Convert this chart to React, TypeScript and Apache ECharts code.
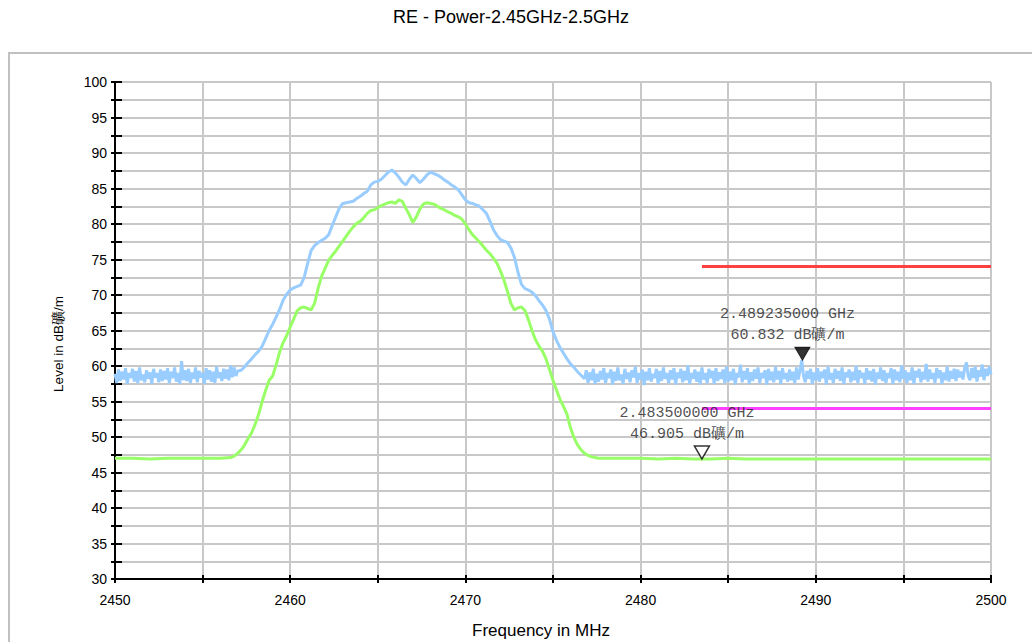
import React, { useEffect, useRef } from "react";
import * as echarts from "echarts";

const titleText = "RE - Power-2.45GHz-2.5GHz";
const xAxisName = "Frequency in MHz";
const yAxisName = "Level in dB礦/m";

const xMin = 2450;
const xMax = 2500;
const yMin = 30;
const yMax = 100;

// Blue (peak) trace: noise floor at 0.1 MHz steps, emission band at 0.2 MHz steps
const noiseStep = 0.1;
const bandStep = 0.2;
const blueLeftStart = 2450;
const blueLeft = [
  58.9, 57.6, 59.5, 57.9, 59.2, 58.1, 59.7, 57.5, 59.0, 58.3,
  59.6, 57.8, 59.3, 57.6, 59.8, 58.0, 58.8, 57.7, 59.4, 58.2,
  59.1, 57.5, 59.6, 58.4, 59.0, 57.7, 59.5, 57.9, 59.3, 58.1,
  59.7, 57.6, 59.2, 58.3, 59.8, 57.8, 59.0, 57.5, 60.7, 58.0,
  59.4, 57.9, 59.6, 57.6, 59.1, 58.2, 59.8, 57.7, 59.3, 58.4,
  59.0, 57.5, 59.7, 58.1, 59.4, 57.8, 59.2, 57.6, 59.9, 58.3,
  59.1, 57.9, 59.6, 58.2, 59.5, 58.0, 60.1, 58.4, 59.8, 58.6,
  59.3,
];
const blueBandStart = 2457.2;
const blueBand = [
  59.4, 59.9, 60.5, 61.0, 61.6,
  62.1, 62.8, 63.9, 65.0, 65.9,
  66.9, 68.0, 69.3, 70.1, 70.7,
  71.0, 71.2, 71.4, 72.5, 74.5,
  76.3, 77.0, 77.4, 77.7, 78.0,
  78.5, 79.8, 81.0, 82.2, 82.9,
  83.0, 83.1, 83.2, 83.6, 83.9,
  84.3, 84.6, 85.5, 85.9, 86.0,
  86.3, 86.8, 87.3, 87.6, 87.2,
  86.6, 85.9, 85.5, 86.3, 86.9,
  86.4, 85.8, 86.3, 86.9, 87.3,
  87.1, 86.9, 86.6, 86.2, 85.9,
  85.5, 85.2, 84.8, 84.1, 83.4,
  83.0, 82.9, 82.7, 82.5, 82.0,
  81.5, 80.4, 79.2, 78.4, 77.8,
  77.6, 77.4, 76.6, 75.3, 73.2,
  71.5, 70.9, 70.7, 70.4, 69.9,
  69.2, 68.6, 67.8, 66.6, 64.8,
  63.6, 62.6, 61.8, 61.0, 60.3,
  59.8, 59.2, 58.7,
];
const blueRightStart = 2476.8;
const blueRight = [
  58.2, 59.4,
  57.6, 59.1, 58.0, 59.6, 57.5, 58.9, 57.8, 59.3, 58.1, 59.7,
  57.6, 59.0, 58.3, 59.5, 57.4, 59.2, 57.9, 59.8, 58.0, 58.8,
  57.5, 59.6, 58.2, 59.1, 57.7, 59.4, 58.4, 59.9, 57.6, 59.0,
  58.1, 59.5, 57.3, 59.2, 58.0, 59.7, 57.8, 58.9, 58.3, 59.6,
  57.5, 59.3, 57.9, 59.8, 58.2, 59.0, 57.6, 59.4, 58.1, 59.7,
  57.4, 59.1, 58.3, 59.6, 57.7, 59.3, 58.0, 60.1, 57.5, 59.0,
  58.2, 59.5, 57.8, 59.2, 57.4, 59.8, 58.1, 59.0, 57.6, 59.6,
  58.3, 59.3, 57.5, 59.7, 57.9, 59.1, 58.2, 59.5, 57.6, 59.9,
  57.8, 59.2, 58.0, 59.6, 57.4, 59.0, 58.4, 60.2, 57.7, 59.3,
  58.1, 59.7, 57.5, 59.1, 57.9, 59.5, 58.2, 59.8, 57.6, 59.0,
  58.3, 59.4, 57.4, 59.6, 58.0, 59.2, 57.7, 59.9, 58.1, 59.3,
  57.5, 59.7, 58.2, 59.0, 57.8, 59.5, 58.0, 59.2, 57.6, 59.8,
  58.1, 59.4, 60.8, 58.6, 57.7, 59.3, 58.2, 59.6, 57.5, 59.1,
  58.0, 59.7, 57.8, 59.2, 58.3, 59.5, 57.4, 59.9, 58.1, 59.0,
  57.6, 59.6, 58.2, 59.3, 57.9, 59.8, 57.5, 59.1, 58.4, 59.5,
  57.7, 59.2, 58.0, 60.0, 57.6, 59.4, 58.3, 59.0, 57.5, 59.7,
  58.1, 59.3, 57.8, 59.6, 57.4, 59.1, 58.2, 59.8, 57.9, 59.4,
  57.6, 59.0, 58.3, 59.7, 57.5, 59.5, 58.0, 59.2, 57.7, 60.1,
  58.2, 59.4, 57.6, 59.1, 58.0, 59.8, 57.5, 59.3, 58.4, 59.6,
  57.7, 59.2, 58.1, 60.3, 57.8, 59.5, 58.2, 59.0, 57.6, 59.7,
  58.3, 59.4, 57.5, 59.1, 58.0, 59.9, 57.8, 59.3, 58.2, 59.6,
  57.9, 59.5, 58.4, 59.2, 58.1, 59.8, 60.5, 58.6, 58.0, 59.7,
  58.3, 59.9, 57.8, 59.4, 58.5, 60.2, 58.0, 59.6, 58.6, 59.9,
  58.8,
];

// Green (average) trace
const greenLeftStart = 2450;
const greenFlatStep = 1;
const greenLeft = [47.0, 47.0, 46.9, 47.0, 47.0, 47.0, 47.0];
const greenBandStart = 2456.6;
const greenBand = [
  47.1, 47.3, 47.7, 48.2, 48.9,
  49.8, 50.6, 51.8, 53.2, 55.0,
  56.6, 58.0, 58.6, 60.2, 62.0,
  63.3, 64.3, 65.5, 66.6, 67.8,
  68.2, 68.3, 68.1, 67.9, 68.9,
  71.0, 72.7, 73.8, 74.9, 75.6,
  76.2, 76.9, 77.6, 78.3, 79.0,
  79.6, 80.1, 80.4, 80.9, 81.5,
  81.9, 82.0, 82.3, 82.6, 82.8,
  83.0, 83.1, 82.9, 83.4, 83.2,
  82.2, 81.3, 80.2, 81.0, 82.1,
  82.8, 83.0, 82.9, 82.8, 82.5,
  82.2, 82.0, 81.7, 81.5, 81.2,
  81.0, 80.7, 80.0, 79.2, 78.5,
  78.0, 77.5, 76.9, 76.3, 75.8,
  75.2, 74.5, 73.4, 72.1, 70.5,
  68.8, 67.9, 68.2, 68.3, 67.8,
  66.5, 65.0, 63.7, 62.8, 62.1,
  61.0, 59.5, 58.0, 56.6, 55.3,
  54.3, 53.2, 51.3, 49.9, 48.9,
  48.2, 47.7, 47.4, 47.2, 47.1,
  47.0,
];
const greenRightStart = 2478;
const greenRight = [
  47.0, 47.0, 47.0, 46.9, 47.0, 46.9, 46.9, 47.0, 46.9, 46.9,
  46.9, 46.9, 46.9, 46.9, 46.9, 46.9, 46.9, 46.9, 46.9, 46.9,
  46.9, 46.9, 46.9,
];

// Limit lines
const limitStart = 2483.5;
const limitEnd = 2500;
const peakLimit = 74;
const avgLimit = 54;

// Markers
const markerPeak = { freq: 2489.235, level: 60.832 };
const markerAvg = { freq: 2483.5, level: 46.905 };

function toPairs(start: number, step: number, vals: number[]) {
  return vals.map((v, i) => [Math.round((start + i * step) * 1000) / 1000, v]);
}

function markerLabel(m: { freq: number; level: number }) {
  return `${(m.freq / 1000).toFixed(9)} GHz\n${m.level.toFixed(3)} dB礦/m`;
}

export default function App() {
  const ref = useRef<HTMLDivElement>(null);

  useEffect(() => {
    if (!ref.current) return;
    const chart = echarts.init(ref.current, undefined, { renderer: "svg" });

    const blueData = [
      ...toPairs(blueLeftStart, noiseStep, blueLeft),
      ...toPairs(blueBandStart, bandStep, blueBand),
      ...toPairs(blueRightStart, noiseStep, blueRight),
    ];
    const greenData = [
      ...toPairs(greenLeftStart, greenFlatStep, greenLeft),
      ...toPairs(greenBandStart, bandStep, greenBand),
      ...toPairs(greenRightStart, greenFlatStep, greenRight),
    ];

    const gridColor = "#c8c8c8";
    const tickFont = { fontFamily: "Liberation Sans, Arial, sans-serif", fontSize: 14, color: "#000" };

    const markerLabelStyle = {
      show: true,
      position: "top",
      distance: 14,
      offset: [-15, 0],
      align: "center",
      fontFamily: "Liberation Mono, monospace",
      fontSize: 15,
      lineHeight: 21,
      color: "#222",
    };

    const option: any = {
      animation: false,
      backgroundColor: "#fff",
      grid: { left: 115, right: 41, top: 82, bottom: 63, containLabel: false },
      graphic: [
        {
          type: "rect",
          shape: { x: 9, y: 53, width: 1200, height: 800 },
          style: { fill: "none", stroke: "#c0c0c0", lineWidth: 2 },
          silent: true,
          z: 0,
        },
        {
          type: "text",
          x: 511,
          y: 17,
          style: {
            text: titleText,
            fontFamily: "Liberation Sans, Arial, sans-serif",
            fontSize: 18,
            fill: "#000",
            align: "center",
            verticalAlign: "middle",
          },
        },
        {
          type: "text",
          x: 541,
          y: 630,
          style: {
            text: xAxisName,
            fontFamily: "Liberation Sans, Arial, sans-serif",
            fontSize: 17,
            fill: "#000",
            align: "center",
            verticalAlign: "middle",
          },
        },
        {
          type: "text",
          x: 58,
          y: 344,
          rotation: Math.PI / 2,
          style: {
            text: yAxisName,
            fontFamily: "Liberation Sans, Arial, sans-serif",
            fontSize: 13.5,
            fill: "#000",
            align: "center",
            verticalAlign: "middle",
          },
        },
      ],
      xAxis: [
        {
          type: "value",
          min: xMin,
          max: xMax,
          interval: 5,
          axisLine: { show: true, onZero: false, lineStyle: { color: "#000", width: 2 } },
          axisTick: { show: true, length: 4, lineStyle: { color: "#000", width: 2 } },
          axisLabel: {
            ...tickFont,
            margin: 14,
            formatter: (v: number) => (v % 10 === 0 ? String(v) : ""),
          },
          splitLine: { show: true, lineStyle: { color: gridColor, width: 2 } },
        },
        {
          type: "value",
          min: xMin,
          max: xMax,
          interval: 5,
          position: "bottom",
          axisLine: { show: false },
          axisTick: { show: true, inside: true, length: 4, lineStyle: { color: "#000", width: 2 } },
          axisLabel: { show: false },
          splitLine: { show: false },
        },
      ],
      yAxis: [
        {
          type: "value",
          min: yMin,
          max: yMax,
          interval: 2.5,
          axisLine: { show: true, onZero: false, lineStyle: { color: "#000", width: 2 } },
          axisTick: { show: true, length: 4, lineStyle: { color: "#000", width: 2 } },
          axisLabel: {
            ...tickFont,
            margin: 8,
            formatter: (v: number) => (v % 5 === 0 ? String(v) : ""),
          },
          splitLine: { show: true, lineStyle: { color: gridColor, width: 2 } },
        },
        {
          type: "value",
          min: yMin,
          max: yMax,
          interval: 2.5,
          position: "left",
          axisLine: { show: false },
          axisTick: { show: true, inside: true, length: 7, lineStyle: { color: "#000", width: 2 } },
          axisLabel: { show: false },
          splitLine: { show: false },
        },
      ],
      series: [
        {
          type: "line",
          name: "Peak",
          data: blueData,
          showSymbol: false,
          lineStyle: { color: "#99ccff", width: 3 },
          z: 3,
        },
        {
          type: "line",
          name: "Average",
          data: greenData,
          showSymbol: false,
          lineStyle: { color: "#99ff66", width: 3 },
          z: 4,
        },
        {
          type: "line",
          name: "Peak Limit",
          data: [[limitStart, peakLimit], [limitEnd, peakLimit]],
          showSymbol: false,
          lineStyle: { color: "#ff4040", width: 3 },
          z: 5,
        },
        {
          type: "line",
          name: "Average Limit",
          data: [[limitStart, avgLimit], [limitEnd, avgLimit]],
          showSymbol: false,
          lineStyle: { color: "#ff40ff", width: 3 },
          z: 5,
        },
        {
          type: "scatter",
          data: [[markerPeak.freq, markerPeak.level]],
          symbol: "triangle",
          symbolRotate: 180,
          symbolSize: [15, 13],
          symbolOffset: [0, -6.5],
          itemStyle: { color: "#000", borderColor: "#000", borderWidth: 1 },
          z: 10,
        },
        {
          type: "scatter",
          data: [[markerAvg.freq, markerAvg.level]],
          symbol: "triangle",
          symbolRotate: 180,
          symbolSize: [15, 13],
          symbolOffset: [0, -6.5],
          itemStyle: { color: "#fff", borderColor: "#000", borderWidth: 1.5 },
          z: 10,
        },
        {
          type: "scatter",
          data: [[markerPeak.freq, markerPeak.level]],
          symbolSize: 0,
          label: { ...markerLabelStyle, formatter: () => markerLabel(markerPeak) },
          z: 11,
        },
        {
          type: "scatter",
          data: [[markerAvg.freq, markerAvg.level]],
          symbolSize: 0,
          label: { ...markerLabelStyle, formatter: () => markerLabel(markerAvg) },
          z: 11,
        },
      ],
    };

    chart.setOption(option);
    return () => chart.dispose();
  }, []);

  return <div ref={ref} style={{ width: 1032, height: 642, position: "absolute", left: 0, top: 0 }} />;
}
